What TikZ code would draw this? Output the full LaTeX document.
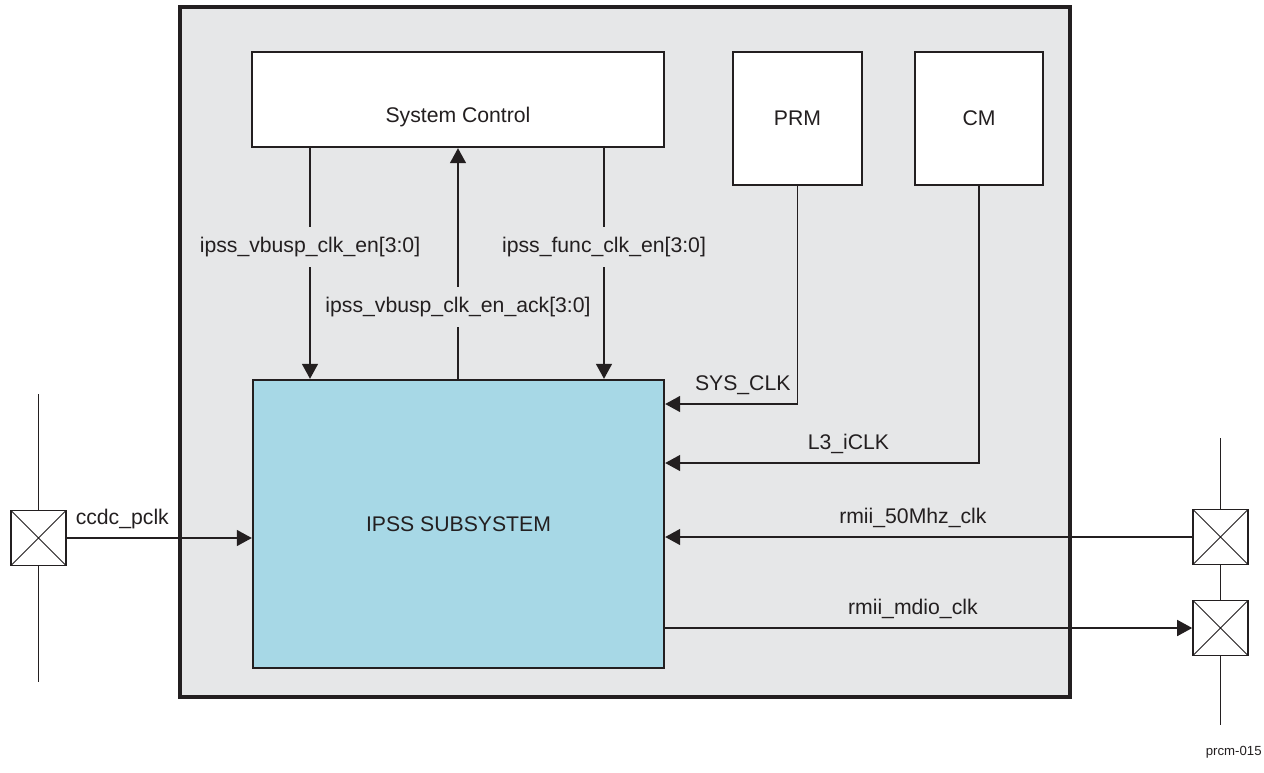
\documentclass[tikz,border=0pt]{standalone}
\usepackage{fontspec}
\setmainfont{Liberation Sans}
\usetikzlibrary{arrows.meta}
\definecolor{cg}{RGB}{230,231,232}
\definecolor{ib}{RGB}{167,216,230}
\definecolor{dk}{RGB}{35,31,32}

\begin{document}
\begin{tikzpicture}[x=0.5pt, y=-0.5pt, >={Triangle[length=7.5pt,width=8pt]},
    font=\fontsize{10.6}{12.7}\selectfont, every node/.style={text=dk},
    blk/.style={draw=dk, line width=1.2pt, fill=white, inner sep=0pt},
    pad/.style={draw=dk, line width=0.8pt, fill=white, minimum size=27.5pt, inner sep=0pt,
        path picture={\draw[dk, line width=0.5pt]
            (path picture bounding box.north west) -- (path picture bounding box.south east)
            (path picture bounding box.north east) -- (path picture bounding box.south west);}},
    sig/.style={draw=dk, line width=0.75pt},
    lbl/.style={fill=cg, inner xsep=2pt, inner ysep=5pt}]

\useasboundingbox (0,0) rectangle (1264,772);

% ════════════════════════════════════════════════
%  Chip outline and blocks
% ════════════════════════════════════════════════
\node[draw=dk, line width=2pt, fill=cg, minimum width=445pt, minimum height=345pt,
    inner sep=0pt] (chip) at (625,352) {};

\node[blk, minimum width=206pt, minimum height=47.5pt] (sysctl) at (458,99.5) {};
\node (sysctltxt) at (458,117) {System Control};
\node[blk, minimum width=64.5pt, minimum height=66.5pt] (prm) at (797.5,118.5) {PRM};
\node[blk, minimum width=64pt, minimum height=66.5pt] (cm) at (979,118.5) {CM};
\node[blk, fill=ib, minimum width=205.5pt, minimum height=144pt] (ipss) at (458.5,524)
    {IPSS SUBSYSTEM};

% ════════════════════════════════════════════════
%  I/O pads
% ════════════════════════════════════════════════
\node[pad] (padl) at (38.5,538) {};
\node[pad] (padra) at (1220.5,537) {};
\node[pad] (padrb) at (1220.5,628) {};

\coordinate (raillt) at (38.5,394);
\coordinate (raillb) at (38.5,682);
\coordinate (railrt) at (1220.5,438);
\coordinate (railrb) at (1220.5,725);
\draw[sig] (raillt) -- (padl.north) (padl.south) -- (raillb);
\draw[sig] (railrt) -- (padra.north) (padra.south) -- (padrb.north)
    (padrb.south) -- (railrb);

% ════════════════════════════════════════════════
%  Clock enables (System Control <-> IPSS)
% ════════════════════════════════════════════════
\coordinate (xv) at (310,0);
\coordinate (xa) at (458,0);
\coordinate (xf) at (604,0);
\draw[sig,->] (sysctl.south -| xv) -- node[lbl,pos=0.43] {ipss\_vbusp\_clk\_en[3:0]}
    (ipss.north -| xv);
\draw[sig,->] (ipss.north -| xa) -- node[lbl,pos=0.31] {ipss\_vbusp\_clk\_en\_ack[3:0]}
    (sysctl.south -| xa);
\draw[sig,->] (sysctl.south -| xf) -- node[lbl,pos=0.43] {ipss\_func\_clk\_en[3:0]}
    (ipss.north -| xf);

% ════════════════════════════════════════════════
%  Clocks
% ════════════════════════════════════════════════
\coordinate (ysys) at (0,404);
\coordinate (yl3) at (0,463);
\draw[sig,->] (prm.south) |- node[above=1pt,pos=0.707] {SYS\_CLK} (ipss.east |- ysys);
\draw[sig,->] (cm.south) |- node[above=1pt,pos=0.708] {L3\_iCLK} (ipss.east |- yl3);
\draw[sig,->] (padra.west) -- node[above=1pt,pos=0.53] {rmii\_50Mhz\_clk}
    (padra.west -| ipss.east);
\draw[sig,->] (ipss.east |- padrb.west) -- node[above=1pt,pos=0.47] {rmii\_mdio\_clk}
    (padrb.west);
\draw[sig,->] (padl.east) -- node[above=1pt,pos=0.3] {ccdc\_pclk} (padl.east -| ipss.west);

% figure number
\node[font=\fontsize{6.6}{7.9}\selectfont, anchor=east, inner sep=0pt] (fignum)
    at (1262,752) {prcm-015};

\end{tikzpicture}
\end{document}
